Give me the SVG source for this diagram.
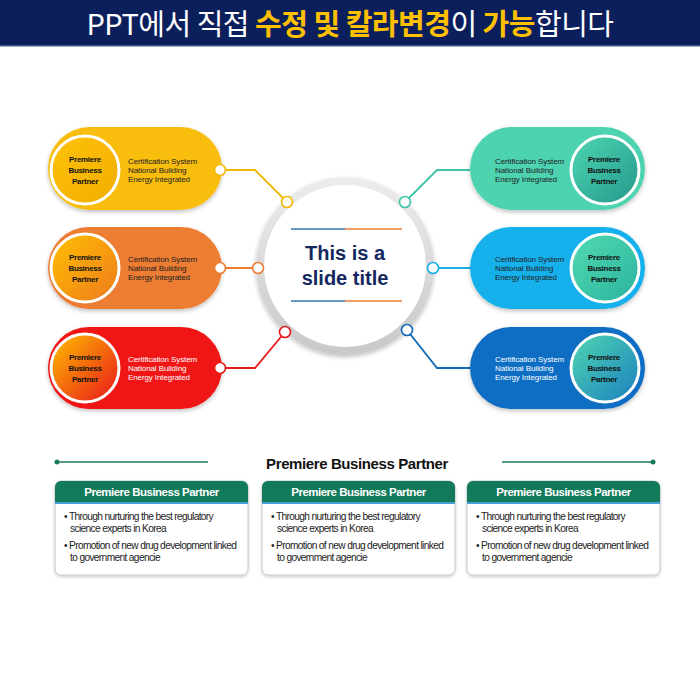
<svg xmlns="http://www.w3.org/2000/svg" width="700" height="700" viewBox="0 0 700 700">
<defs>
<style>
.hd{font-family:"Noto Sans CJK KR","Noto Sans",sans-serif;font-size:29px;letter-spacing:-0.5px}
.w{fill:#ffffff}
.y{fill:#ffc000;font-weight:bold}
.cap{font-family:"Liberation Sans",Arial,sans-serif;font-size:8px;font-weight:bold;fill:#111;text-anchor:middle;letter-spacing:-0.3px}
.pt{font-family:"Liberation Sans",Arial,sans-serif;font-size:8px;letter-spacing:-0.1px}
.dk{fill:#222}
.lt{fill:#ffffff}
.ttl{font-family:"Liberation Sans",Arial,sans-serif;font-size:20px;font-weight:bold;fill:#14275e;text-anchor:middle}
.sec{font-family:"Liberation Sans",Arial,sans-serif;font-size:15px;font-weight:bold;fill:#111;text-anchor:middle;letter-spacing:-0.4px}
.bh{font-family:"Liberation Sans",Arial,sans-serif;font-size:11.5px;font-weight:bold;fill:#fff;text-anchor:middle;letter-spacing:-0.5px}
.bt{font-family:"Liberation Sans",Arial,sans-serif;font-size:10.2px;fill:#222;letter-spacing:-0.65px}
.box{fill:#fff;stroke:#c8c8c8;stroke-width:1}
.ring{stroke-width:3;stroke:#fff}
.dot{fill:#fff;stroke-width:1.6}
.con{fill:none;stroke-width:1.8}
.bl{stroke:#2e75b6;stroke-width:1.5}
.or{stroke:#ed7d31;stroke-width:1.5}
</style>
<filter id="sh" x="-20%" y="-20%" width="140%" height="150%"><feDropShadow dx="0" dy="2" stdDeviation="2" flood-color="#000" flood-opacity="0.25"/></filter>
<filter id="sh2" x="-20%" y="-20%" width="140%" height="140%"><feDropShadow dx="0" dy="1.5" stdDeviation="1.5" flood-color="#000" flood-opacity="0.2"/></filter>
<linearGradient id="gY" x1="0" y1="0" x2="1" y2="1"><stop offset="0" stop-color="#ffc20a"/><stop offset="1" stop-color="#f0ad00"/></linearGradient>
<linearGradient id="gO" x1="0" y1="0" x2="1" y2="1"><stop offset="0" stop-color="#ffc000"/><stop offset="1" stop-color="#ee7a1e"/></linearGradient>
<linearGradient id="gR" x1="0" y1="0" x2="1" y2="1"><stop offset="0" stop-color="#ffc000"/><stop offset="1" stop-color="#e8141a"/></linearGradient>
<linearGradient id="gT" x1="0" y1="0" x2="1" y2="1"><stop offset="0" stop-color="#4fd6b3"/><stop offset="1" stop-color="#23988a"/></linearGradient>
<linearGradient id="gB" x1="0" y1="0" x2="1" y2="1"><stop offset="0" stop-color="#52dab0"/><stop offset="1" stop-color="#2ab39f"/></linearGradient>
<linearGradient id="gD" x1="0" y1="0" x2="1" y2="1"><stop offset="0" stop-color="#50d7b0"/><stop offset="1" stop-color="#1a7fc0"/></linearGradient>
<linearGradient id="gRing" x1="0" y1="0" x2="0" y2="1"><stop offset="0" stop-color="#ececec"/><stop offset="1" stop-color="#c9c9c9"/></linearGradient>
</defs>

<rect x="0" y="0" width="700" height="46" fill="#0b1f5c"/>
<rect x="0" y="45" width="700" height="1.5" fill="#3c5a8c"/>
<text class="hd" x="350" y="35" text-anchor="middle"><tspan class="w">PPT에서 직접 </tspan><tspan class="y">수정 및 칼라변경</tspan><tspan class="w">이 </tspan><tspan class="y">가능</tspan><tspan class="w">합니다</tspan></text>

<g id="connectors">
<polyline class="con" stroke="#f2b705" points="220,170 255,170 287,202"/>
<polyline class="con" stroke="#ed7d31" points="220,268 258,268"/>
<polyline class="con" stroke="#e81b1b" points="220,368 255,368 285,332"/>
<polyline class="con" stroke="#3fc4a5" points="405,202 437,170 470,170"/>
<polyline class="con" stroke="#18aee8" points="433,268 470,268"/>
<polyline class="con" stroke="#1068b8" points="407,330 437,368 470,368"/>
</g>

<g id="center">
<circle cx="345" cy="266" r="85" fill="#ffffff" stroke="url(#gRing)" stroke-width="8" filter="url(#sh)"/>
<line class="bl" x1="291" y1="229" x2="345" y2="229"/>
<line class="or" x1="345" y1="229" x2="402" y2="229"/>
<line class="bl" x1="291" y1="301" x2="345" y2="301"/>
<line class="or" x1="345" y1="301" x2="402" y2="301"/>
<text class="ttl" x="345" y="260">This is a</text>
<text class="ttl" x="345" y="285">slide title</text>
</g>

<g id="node-yellow">
<rect x="48" y="127" width="174" height="83" rx="41.5" fill="#f9bd0b" filter="url(#sh)"/>
<circle class="ring" cx="85" cy="170" r="34" fill="url(#gY)"/>
<text class="cap" x="85" y="162">Premiere</text>
<text class="cap" x="85" y="173">Business</text>
<text class="cap" x="85" y="184">Partner</text>
<text class="pt dk" x="128" y="164">Certification System</text>
<text class="pt dk" x="128" y="173">National Building</text>
<text class="pt dk" x="128" y="182">Energy Integrated</text>
</g>

<g id="node-orange">
<rect x="48" y="227" width="174" height="82" rx="41" fill="#ec7d32" filter="url(#sh)"/>
<circle class="ring" cx="85" cy="268" r="34" fill="url(#gO)"/>
<text class="cap" x="85" y="260">Premiere</text>
<text class="cap" x="85" y="271">Business</text>
<text class="cap" x="85" y="282">Partner</text>
<text class="pt dk" x="128" y="262">Certification System</text>
<text class="pt dk" x="128" y="271">National Building</text>
<text class="pt dk" x="128" y="280">Energy Integrated</text>
</g>

<g id="node-red">
<rect x="48" y="327" width="174" height="82" rx="41" fill="#f01414" filter="url(#sh)"/>
<circle class="ring" cx="85" cy="368" r="34" fill="url(#gR)"/>
<text class="cap" x="85" y="360">Premiere</text>
<text class="cap" x="85" y="371">Business</text>
<text class="cap" x="85" y="382">Partner</text>
<text class="pt lt" x="128" y="362">Certification System</text>
<text class="pt lt" x="128" y="371">National Building</text>
<text class="pt lt" x="128" y="380">Energy Integrated</text>
</g>

<g id="node-teal">
<rect x="470" y="127" width="175" height="83" rx="41.5" fill="#4dd3b0" filter="url(#sh)"/>
<circle class="ring" cx="605" cy="170" r="34" fill="url(#gT)"/>
<text class="cap" x="604" y="162">Premiere</text>
<text class="cap" x="604" y="173">Business</text>
<text class="cap" x="604" y="184">Partner</text>
<text class="pt dk" x="495" y="164">Certification System</text>
<text class="pt dk" x="495" y="173">National Building</text>
<text class="pt dk" x="495" y="182">Energy Integrated</text>
</g>

<g id="node-blue">
<rect x="470" y="227" width="175" height="82" rx="41" fill="#14b0ec" filter="url(#sh)"/>
<circle class="ring" cx="605" cy="268" r="34" fill="url(#gB)"/>
<text class="cap" x="604" y="260">Premiere</text>
<text class="cap" x="604" y="271">Business</text>
<text class="cap" x="604" y="282">Partner</text>
<text class="pt dk" x="495" y="262">Certification System</text>
<text class="pt dk" x="495" y="271">National Building</text>
<text class="pt dk" x="495" y="280">Energy Integrated</text>
</g>

<g id="node-darkblue">
<rect x="470" y="327" width="175" height="82" rx="41" fill="#0e6ec4" filter="url(#sh)"/>
<circle class="ring" cx="605" cy="368" r="34" fill="url(#gD)"/>
<text class="cap" x="604" y="360">Premiere</text>
<text class="cap" x="604" y="371">Business</text>
<text class="cap" x="604" y="382">Partner</text>
<text class="pt lt" x="495" y="362">Certification System</text>
<text class="pt lt" x="495" y="371">National Building</text>
<text class="pt lt" x="495" y="380">Energy Integrated</text>
</g>

<g id="dots">
<circle class="dot" cx="220" cy="170" r="5.5" stroke="#f2b705"/>
<circle class="dot" cx="287" cy="202" r="5.5" stroke="#f2b705"/>
<circle class="dot" cx="220" cy="268" r="5.5" stroke="#ed7d31"/>
<circle class="dot" cx="258" cy="268" r="5.5" stroke="#ed7d31"/>
<circle class="dot" cx="220" cy="368" r="5.5" stroke="#e81b1b"/>
<circle class="dot" cx="285" cy="332" r="5.5" stroke="#e81b1b"/>
<circle class="dot" cx="405" cy="202" r="5.5" stroke="#3fc4a5"/>
<circle class="dot" cx="433" cy="268" r="5.5" stroke="#18aee8"/>
<circle class="dot" cx="407" cy="330" r="5.5" stroke="#1068b8"/>
</g>

<g id="section-title">
<line x1="57" y1="462" x2="208" y2="462" stroke="#1a7a5c" stroke-width="1.6"/>
<circle cx="57" cy="462" r="2.5" fill="#1a7a5c"/>
<line x1="502" y1="462" x2="653" y2="462" stroke="#1a7a5c" stroke-width="1.6"/>
<circle cx="653" cy="462" r="2.5" fill="#1a7a5c"/>
<text class="sec" x="357" y="469">Premiere Business Partner</text>
</g>

<g id="box1">
<rect class="box" x="55" y="481" width="193" height="94" rx="6" filter="url(#sh2)"/>
<path d="M55,502 V487 a6,6 0 0 1 6,-6 H242 a6,6 0 0 1 6,6 V502 Z" fill="#117a5a"/>
<rect x="55" y="502" width="193" height="2" fill="#4a9ed6"/>
<text class="bh" x="151.5" y="496">Premiere Business Partner</text>
<text class="bt" x="64" y="520">• Through nurturing the best regulatory</text>
<text class="bt" x="70" y="532">science experts in Korea</text>
<text class="bt" x="64" y="549">• Promotion of new drug development linked</text>
<text class="bt" x="70" y="561">to government agencie</text>
</g>

<g id="box2">
<rect class="box" x="262" y="481" width="193" height="94" rx="6" filter="url(#sh2)"/>
<path d="M262,502 V487 a6,6 0 0 1 6,-6 H449 a6,6 0 0 1 6,6 V502 Z" fill="#117a5a"/>
<rect x="262" y="502" width="193" height="2" fill="#4a9ed6"/>
<text class="bh" x="358.5" y="496">Premiere Business Partner</text>
<text class="bt" x="271" y="520">• Through nurturing the best regulatory</text>
<text class="bt" x="277" y="532">science experts in Korea</text>
<text class="bt" x="271" y="549">• Promotion of new drug development linked</text>
<text class="bt" x="277" y="561">to government agencie</text>
</g>

<g id="box3">
<rect class="box" x="467" y="481" width="193" height="94" rx="6" filter="url(#sh2)"/>
<path d="M467,502 V487 a6,6 0 0 1 6,-6 H654 a6,6 0 0 1 6,6 V502 Z" fill="#117a5a"/>
<rect x="467" y="502" width="193" height="2" fill="#4a9ed6"/>
<text class="bh" x="563.5" y="496">Premiere Business Partner</text>
<text class="bt" x="476" y="520">• Through nurturing the best regulatory</text>
<text class="bt" x="482" y="532">science experts in Korea</text>
<text class="bt" x="476" y="549">• Promotion of new drug development linked</text>
<text class="bt" x="482" y="561">to government agencie</text>
</g>
</svg>
